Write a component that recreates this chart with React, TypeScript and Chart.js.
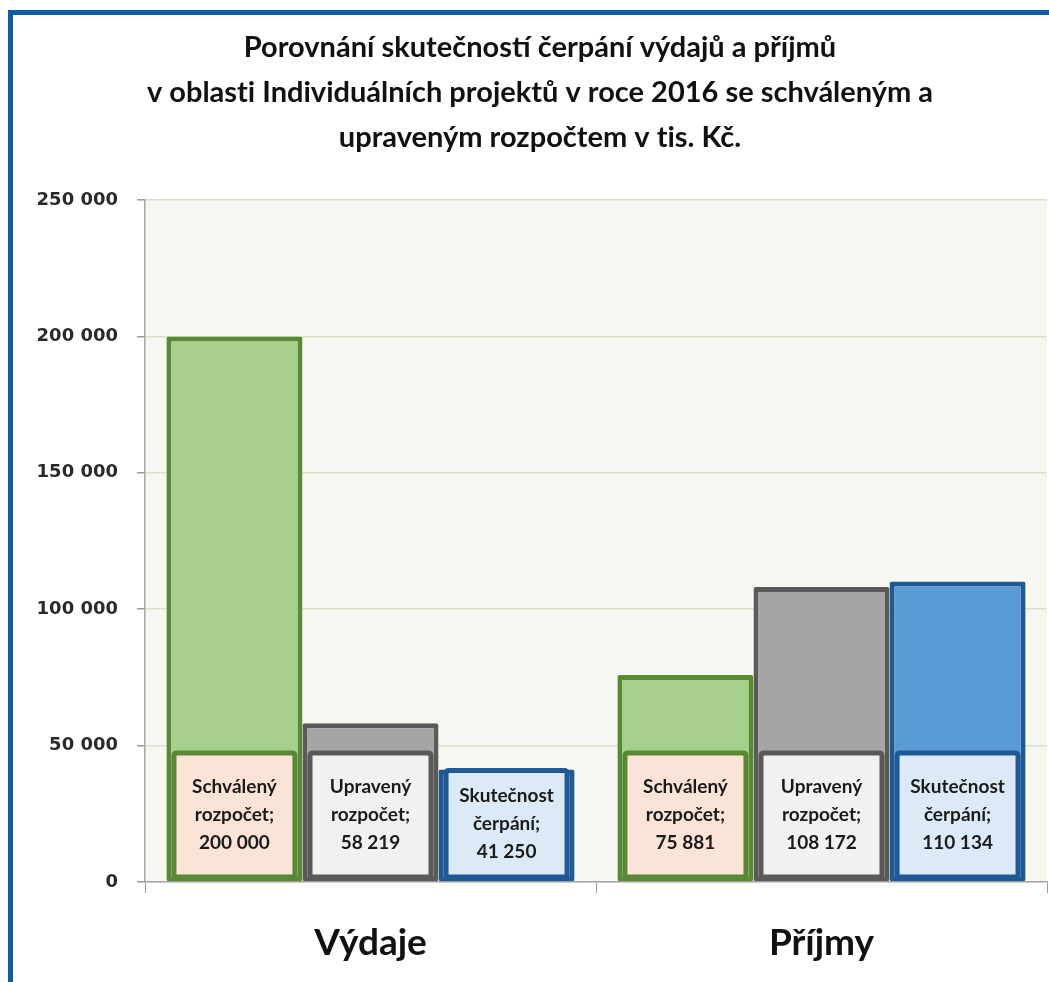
import React, { useEffect, useRef } from "react";
import { Chart, registerables } from "chart.js";

Chart.register(...registerables);

const categories = ["Výdaje", "Příjmy"];
const seriesNames = ["Schválený rozpočet", "Upravený rozpočet", "Skutečnost čerpání"];
const schvalenyValues = [200000, 75881];
const upravenyValues = [58219, 108172];
const skutecnostValues = [41250, 110134];
const yTickValues = [0, 50000, 100000, 150000, 200000, 250000];
const titleLines = [
  "Porovnání skutečností čerpání výdajů a příjmů",
  "v oblasti Individuálních projektů v roce 2016 se schváleným a",
  "upraveným rozpočtem v tis. Kč.",
];

const barFills = ["#a6d08b", "#a5a5a5", "#5b9bd5"];
const barBorders = ["#578a33", "#5a5a5a", "#1f5a96"];
const boxFills = ["#fbe3d7", "#f1f1f1", "#dceaf7"];

const fmt = (v: number) => {
  const s = Math.round(v).toString();
  return s.replace(/\B(?=(\d{3})+(?!\d))/g, " ");
};

// break "ti"/"fi" ligatures without changing visible text
const noLig = (s: string) => s.replace(/t(?=i)/g, "t\u200C").replace(/f(?=[il])/g, "f\u200C");

function roundRect(ctx: CanvasRenderingContext2D, x: number, y: number, w: number, h: number, r: number) {
  ctx.beginPath();
  ctx.moveTo(x + r, y);
  ctx.lineTo(x + w - r, y);
  ctx.quadraticCurveTo(x + w, y, x + w, y + r);
  ctx.lineTo(x + w, y + h - r);
  ctx.quadraticCurveTo(x + w, y + h, x + w - r, y + h);
  ctx.lineTo(x + r, y + h);
  ctx.quadraticCurveTo(x, y + h, x, y + h - r);
  ctx.lineTo(x, y + r);
  ctx.quadraticCurveTo(x, y, x + r, y);
  ctx.closePath();
}

const decorPlugin = {
  id: "decor",
  beforeDraw(chart: any) {
    const { ctx, chartArea } = chart;
    ctx.save();
    ctx.fillStyle = "#ffffff";
    ctx.fillRect(0, 0, chart.width, chart.height);
    // frame
    ctx.fillStyle = "#0f5ca9";
    ctx.fillRect(8, 10, chart.width - 8, 5);
    ctx.fillRect(8, 10, 5, chart.height - 10);
    // plot background
    ctx.fillStyle = "#f5f7f0";
    ctx.fillRect(chartArea.left, chartArea.top, chartArea.right - chartArea.left, chartArea.bottom - chartArea.top);
    // title
    ctx.fillStyle = "#111111";
    ctx.font = "bold 29px Lato";
    ctx.textAlign = "center";
    ctx.textBaseline = "middle";
    const ys = [48, 93, 138];
    titleLines.forEach((t, i) => ctx.fillText(noLig(t), 540, ys[i]));
    ctx.restore();
  },
  afterDatasetsDraw(chart: any) {
    const { ctx, chartArea } = chart;
    ctx.save();
    chart.data.datasets.forEach((ds: any, di: number) => {
      const meta = chart.getDatasetMeta(di);
      meta.data.forEach((el: any, i: number) => {
        const w = 121;
        const bottom = chartArea.bottom - 5;
        const defaultTop = bottom - 124;
        const top = Math.max(defaultTop, el.y + 1);
        const h = bottom - top;
        const x = el.x - w / 2;
        roundRect(ctx, x, top, w, h, 3);
        ctx.fillStyle = boxFills[di];
        ctx.fill();
        ctx.lineWidth = 5;
        ctx.strokeStyle = barBorders[di];
        ctx.stroke();
        const parts = seriesNames[di].split(" ");
        const lines = [parts[0], parts[1] + ";", fmt(ds.data[i])];
        ctx.fillStyle = "#1a1a1a";
        ctx.font = "bold 19px Lato";
        ctx.textAlign = "center";
        ctx.textBaseline = "middle";
        const cy = top + h / 2;
        lines.forEach((ln, k) => ctx.fillText(ln, el.x, cy + (k - 1) * 28));
      });
    });
    ctx.restore();
  },
};

export default function App() {
  const canvasRef = useRef<HTMLCanvasElement | null>(null);
  useEffect(() => {
    document.body.style.margin = "0";
    const canvas = canvasRef.current!;
    const chart = new Chart(canvas, {
      type: "bar",
      data: {
        labels: categories,
        datasets: [schvalenyValues, upravenyValues, skutecnostValues].map((vals, di) => ({
          label: seriesNames[di],
          data: vals,
          backgroundColor: barFills[di],
          borderColor: barBorders[di],
          borderWidth: 5,
          borderSkipped: false,
          borderRadius: 2,
          categoryPercentage: 0.905,
          barPercentage: 1.0,
        })),
      },
      options: {
        responsive: false,
        animation: false,
        layout: { padding: { left: 0, top: 200, right: 2, bottom: 0 } },
        plugins: {
          legend: { display: false },
          title: { display: false },
          tooltip: { enabled: false },
        },
        scales: {
          x: {
            offset: true,
            grid: {
              offset: true,
              drawOnChartArea: false,
              drawTicks: true,
              tickLength: 11,
              color: "#9a9a9a",
            },
            border: { color: "#a6a6a6", width: 1.5 },
            ticks: {
              font: { family: "Lato", size: 37, weight: "bold" },
              color: "#111111",
              padding: 28,
            },
            afterFit(scale: any) {
              scale.height = 100;
            },
          },
          y: {
            min: 0,
            max: 250000,
            afterBuildTicks(scale: any) {
              scale.ticks = yTickValues.map((v) => ({ value: v }));
            },
            grid: {
              color: "#d8e2cb",
              lineWidth: 1.5,
              tickLength: 8,
              tickColor: "#9a9a9a",
            },
            border: { color: "#a6a6a6", width: 1.5 },
            ticks: {
              font: { family: "DejaVu Sans", size: 18, weight: "bold" },
              color: "#2a2a2a",
              padding: 19,
              callback: (v: any) => fmt(Number(v)),
            },
            afterFit(scale: any) {
              scale.width = 145;
            },
          },
        },
      },
      plugins: [decorPlugin],
    });
    return () => chart.destroy();
  }, []);
  return (
    <div style={{ width: 1049, height: 982 }}>
      <canvas ref={canvasRef} width={1049} height={982} style={{ display: "block" }} />
    </div>
  );
}
